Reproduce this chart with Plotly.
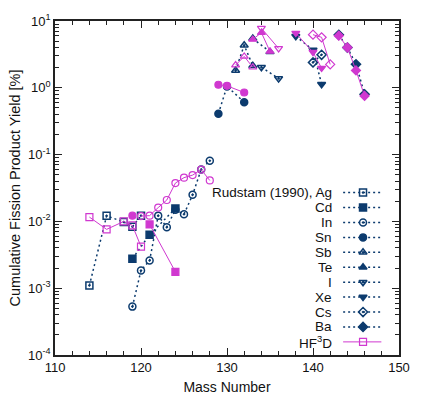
import plotly.graph_objects as go

BLUE = "#0c3b6e"
MAG = "#d038d0"
FONT = "Liberation Sans, Arial, Helvetica, sans-serif"

elements = ["Ag", "Cd", "In", "Sn", "Sb", "Te", "I", "Xe", "Cs", "Ba"]

# Rudstam (1990) measured cumulative yields [%]
rud_A = {
    "Ag": [114, 116, 118, 119, 120],
    "Cd": [119, 121, 124],
    "In": [119, 120, 121, 122, 123, 124, 125, 126, 127, 128],
    "Sn": [129, 130, 132],
    "Sb": [131, 132, 133],
    "Te": [133, 135],
    "I":  [134, 136],
    "Xe": [138, 140, 141],
    "Cs": [140, 141],
    "Ba": [143, 144, 145, 146],
}
rud_Y = {
    "Ag": [1.1e-3, 0.0121, 0.0098, 0.0083, 0.0122],
    "Cd": [0.00277, 0.0063, 0.0156],
    "In": [5.3e-4, 1.84e-3, 2.6e-3, 0.0122, 0.0082, 0.015, 0.0128, 0.025, 0.060, 0.081],
    "Sn": [0.41, 1.05, 0.61],
    "Sb": [1.82, 4.33, 2.14],
    "Te": [5.47, 3.45],
    "I":  [2.03, 1.38],
    "Xe": [5.9, 3.68, 1.13],
    "Cs": [2.40, 3.12],
    "Ba": [6.2, 4.0, 2.25, 0.80],
}

# HF3D calculated cumulative yields [%]
hf_A = {
    "Ag": [114, 116, 118, 119, 120],
    "Cd": [121, 124],
    "In": [120, 121, 122, 123, 124, 125, 126, 127, 128],
    "Sn": [119, None, 129, 130, 132],
    "Sb": [131, 132, 133],
    "Te": [133, 134, 135],
    "I":  [134, 136],
    "Xe": [138, 140, 141],
    "Cs": [140, 141, 142],
    "Ba": [143, 144, 145, 146],
}
hf_Y = {
    "Ag": [0.0116, 0.0076, 0.0100, 0.0087, 0.0042],
    "Cd": [0.0090, 0.00176],
    "In": [0.0120, 0.0122, 0.0161, 0.0209, 0.0375, 0.0452, 0.0493, 0.0596, 0.041],
    "Sn": [0.0122, None, 1.11, 1.07, 0.85],
    "Sb": [2.19, 2.95, 2.03],
    "Te": [5.3, 6.7, 3.5],
    "I":  [7.8, 3.88],
    "Xe": [6.58, 3.41, 1.97],
    "Cs": [6.24, 5.70, 2.24],
    "Ba": [6.04, 4.01, 1.82, 0.755],
}

rud_sym = {"Ag": "square-open-dot", "Cd": "square", "In": "circle-open-dot", "Sn": "circle",
           "Sb": "triangle-up-open-dot", "Te": "triangle-up", "I": "triangle-down-open-dot",
           "Xe": "triangle-down", "Cs": "diamond-open-dot", "Ba": "diamond"}
hf_sym = {"Ag": "square-open", "Cd": "square", "In": "circle-open", "Sn": "circle",
          "Sb": "triangle-up-open", "Te": "triangle-up", "I": "triangle-down-open",
          "Xe": "triangle-down", "Cs": "diamond-open", "Ba": "diamond"}

legend_labels = ["Rudstam (1990), Ag", "Cd", "In", "Sn", "Sb", "Te", "I", "Xe", "Cs", "Ba", "HF<sup>3</sup>D"]

x_ticks = [110, 120, 130, 140, 150]
y_ticks = [1e-4, 1e-3, 1e-2, 1e-1, 1, 10]
y_ticktext = ["10<sup>-4</sup>", "10<sup>-3</sup>", "10<sup>-2</sup>", "10<sup>-1</sup>",
              "10<sup>0</sup>", "10<sup>1</sup>"]

fig = go.Figure()

DASH = "2px,3px"
MS = 7
for el in elements:
    fig.add_trace(go.Scatter(
        x=rud_A[el], y=rud_Y[el], mode="lines+markers",
        line=dict(color=BLUE, width=1.5, dash=DASH),
        marker=dict(symbol=rud_sym[el], size=MS, color=BLUE,
                    line=dict(color=BLUE, width=1.5)),
        showlegend=False, connectgaps=False))

for el in elements:
    fig.add_trace(go.Scatter(
        x=hf_A[el], y=hf_Y[el], mode="lines+markers",
        line=dict(color=MAG, width=1),
        marker=dict(symbol=hf_sym[el], size=MS, color=MAG,
                    line=dict(color=MAG, width=1.2)),
        showlegend=False, connectgaps=False))

# manual gnuplot-style legend (text right, sample on the right)
L, R, T, B, W, H = 55, 16, 14, 42, 422, 405
pw, ph = W - L - R, H - T - B
row0, dy = 193.3, 15.6
x_l0, x_l1, x_m, x_txt = 349, 388, 369.3, 340
for i, lab in enumerate(legend_labels):
    py = row0 + dy * i
    yp = (H - B - py) / ph
    is_hf = (i == len(legend_labels) - 1)
    col = MAG if is_hf else BLUE
    sym = "square-open" if is_hf else rud_sym[elements[i]]
    fig.add_trace(go.Scatter(
        x=[(x_l0 - L) / pw, (x_l1 - L) / pw], y=[yp, yp], xaxis="x2", yaxis="y2",
        mode="lines", line=dict(color=col, width=1 if is_hf else 1.5,
                                dash="solid" if is_hf else DASH),
        showlegend=False, hoverinfo="skip"))
    fig.add_trace(go.Scatter(
        x=[(x_m - L) / pw], y=[yp], xaxis="x2", yaxis="y2", mode="markers",
        marker=dict(symbol=sym, size=MS, color=col, line=dict(color=col, width=1.2 if is_hf else 1.5)),
        showlegend=False, hoverinfo="skip"))
    fig.add_annotation(x=(x_txt - L) / pw, y=yp, xref="paper", yref="paper",
                       text=lab, showarrow=False, xanchor="right", yanchor="middle",
                       font=dict(family=FONT, size=13.5, color="#111"))

minor_y = [k * 10.0 ** d for d in range(-4, 1) for k in range(2, 10)]

axis_common = dict(showline=True, linecolor="#222", linewidth=1.5, mirror="allticks",
                   ticks="inside", tickcolor="#222", tickwidth=1, showgrid=False,
                   zeroline=False, tickfont=dict(family=FONT, size=13, color="#111"))

fig.update_layout(
    width=W, height=H,
    margin=dict(l=L, r=R, t=T, b=B),
    paper_bgcolor="white", plot_bgcolor="white",
    font=dict(family=FONT, size=13, color="#111"),
    xaxis=dict(range=[110, 150], tickvals=x_ticks, ticklen=7,
               minor=dict(dtick=2, ticks="inside", ticklen=4, tickcolor="#222"),
               title=dict(text="Mass Number", font=dict(family=FONT, size=14), standoff=8),
               **axis_common),
    yaxis=dict(type="log", range=[-4, 1], tickvals=y_ticks, ticktext=y_ticktext, ticklen=7,
               minor=dict(tickvals=minor_y, ticks="inside", ticklen=4, tickcolor="#222"),
               title=dict(text="Cumulative Fission Product Yield [%]",
                          font=dict(family=FONT, size=14.5), standoff=4),
               **axis_common),
    xaxis2=dict(overlaying="x", range=[0, 1], visible=False, fixedrange=True),
    yaxis2=dict(overlaying="y", range=[0, 1], visible=False, fixedrange=True),
)

fig.write_html("out.html")
